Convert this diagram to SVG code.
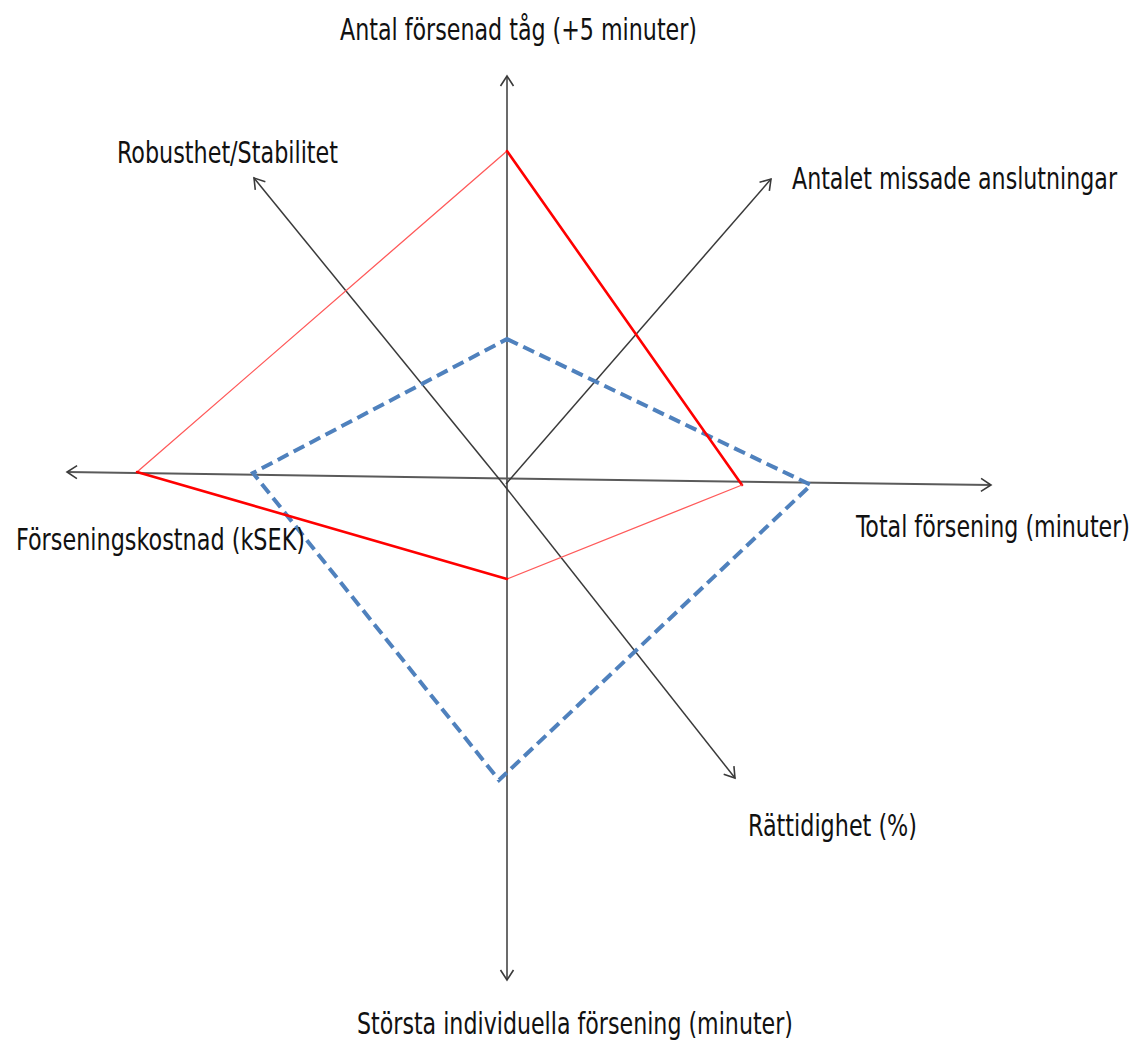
<svg xmlns="http://www.w3.org/2000/svg" width="1137" height="1044" viewBox="0 0 1137 1044">
<style>
  .lbl { font-family: "DejaVu Sans Condensed", "DejaVu Sans", sans-serif; font-stretch: condensed; font-size: 30px; fill: #111; }
  .axis { stroke: #3a3a3a; stroke-width: 1.5; fill: none; marker-end: url(#arr); }
  .axis-h { stroke: #5a5a5a; stroke-width: 2; }
  .red-thick { stroke: #ff0000; stroke-width: 2.6; fill: none; stroke-linecap: round; }
  .red-thin { stroke: #ff5a5a; stroke-width: 1.3; fill: none; stroke-linecap: round; }
  .blue { stroke: #4f81bd; stroke-width: 4; fill: none; stroke-dasharray: 12 6; stroke-linejoin: miter; }
</style>
<defs>
  <marker id="arr" markerUnits="userSpaceOnUse" markerWidth="16" markerHeight="16" refX="12" refY="8" orient="auto">
    <path d="M2,1.5 L12,8 L2,14.5" fill="none" stroke="#3a3a3a" stroke-width="1.6"/>
  </marker>
</defs>
<rect width="1137" height="1044" fill="#ffffff"/>

<g id="connectors">
  <line class="axis" x1="507" y1="482" x2="507" y2="76"/>
  <line class="axis" x1="507" y1="482" x2="507" y2="980"/>
  <line class="axis axis-h" x1="507" y1="478.5" x2="67" y2="472"/>
  <line class="axis axis-h" x1="507" y1="478.5" x2="991" y2="485"/>
  <line class="axis" x1="500" y1="480" x2="254" y2="178"/>
  <line class="axis" x1="500" y1="480" x2="735" y2="778"/>
  <line class="axis" x1="506" y1="484" x2="771" y2="179"/>
</g>

<g id="series-blue">
  <polygon class="blue" points="507,339 811,485 499,780 253,473"/>
</g>

<g id="series-red">
  <line class="red-thin" x1="137" y1="472" x2="507" y2="151"/>
  <line class="red-thick" x1="507" y1="151" x2="742" y2="485"/>
  <line class="red-thin" x1="742" y1="485" x2="507" y2="579"/>
  <line class="red-thick" x1="507" y1="579" x2="137" y2="472"/>
</g>

<g id="label-antal-forsenade">
  <text class="lbl" x="340" y="40" textLength="357" lengthAdjust="spacingAndGlyphs">Antal försenad tåg (+5 minuter)</text>
</g>
<g id="label-robusthet">
  <text class="lbl" x="117" y="163" textLength="221" lengthAdjust="spacingAndGlyphs">Robusthet/Stabilitet</text>
</g>
<g id="label-anslutningar">
  <text class="lbl" x="792" y="189" textLength="325" lengthAdjust="spacingAndGlyphs">Antalet missade anslutningar</text>
</g>
<g id="label-kostnad">
  <text class="lbl" x="16" y="550" textLength="289" lengthAdjust="spacingAndGlyphs">Förseningskostnad (kSEK)</text>
</g>
<g id="label-total">
  <text class="lbl" x="856" y="537" textLength="274" lengthAdjust="spacingAndGlyphs">Total försening (minuter)</text>
</g>
<g id="label-rattidighet">
  <text class="lbl" x="748" y="836" textLength="169" lengthAdjust="spacingAndGlyphs">Rättidighet (%)</text>
</g>
<g id="label-storsta">
  <text class="lbl" x="357" y="1034" textLength="436" lengthAdjust="spacingAndGlyphs">Största individuella försening (minuter)</text>
</g>
</svg>
